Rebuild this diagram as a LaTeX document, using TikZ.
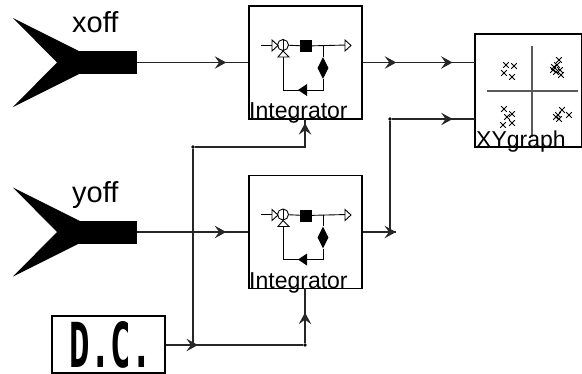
\documentclass[tikz,border=0pt]{standalone}
\usepackage{fontspec}
\setmainfont{Liberation Sans}
\newfontfamily\dcfont{DejaVu Sans Mono}[FontFace={bx}{n}{DejaVu Sans Mono Bold}]
\usetikzlibrary{arrows.meta,decorations.markings,positioning,shapes.geometric}
\tikzset{
  wire/.style={line width=1.1pt, black!85},
  wirehead/.tip={Stealth[length=11.5pt, width=12.5pt, inset=4.5pt]},
  flow/.style={postaction={decorate, decoration={markings, mark=at position #1 with {\arrow{wirehead}}}}},
  block/.style={draw, line width=1.1pt, fill=white, minimum width=113pt, minimum height=113pt, inner sep=0pt},
  dot/.style={circle, fill=black, inner sep=1.4pt},
  body/.style={fill=black, minimum width=59pt, minimum height=23pt, inner sep=0pt},
  title/.style={font=\fontsize{23}{26}\selectfont, inner sep=0pt, anchor=base west},
  blackbox/.style={fill=black, minimum size=12pt, inner sep=0pt},
  sumcircle/.style={circle, draw, line width=0.9pt, minimum size=11pt, inner sep=0pt},
  blackdiamond/.style={diamond, fill=black, aspect=0.5, minimum width=11pt, minimum height=22pt, inner sep=0pt},
  opentri/.style={draw, line width=0.9pt, fill=white},
  axisline/.style={line width=1.2pt, black!65},
  xmark/.pic={\draw[line width=0.8pt] (-2.8,-2.8) -- (2.8,2.8) (-2.8,2.8) -- (2.8,-2.8);},
}

\begin{document}
\begin{tikzpicture}[x=1pt, y=-1pt]
  \useasboundingbox (0,0) rectangle (582,373);

  % Sources
  \foreach \name/\ymid/\lbl in {xoff/62.5/xoff, yoff/232/yoff} {
    \fill (13,\ymid-44.5) -- (80,\ymid-11) -- (80,\ymid+11) -- (13,\ymid+44.5) -- (57,\ymid) -- cycle;
    \node[body] (\name) at (107.5,\ymid) {};
    \node[font=\fontsize{29}{32}\selectfont, inner sep=0pt, anchor=base west] (\name label) at (72,\ymid-30) {\lbl};
  }

  % Integrators
  \foreach \name/\ymid in {intx/62.5, inty/232} {
    \node[block] (\name) at (305.5,\ymid) {};
    \begin{scope}[shift={(0,\ymid-62.5)}]
      \coordinate (\name in) at (261,45);
      \node[sumcircle] (\name sum) at (283,45) {};
      \node[blackbox] (\name gain) at (306,46) {};
      \coordinate (\name out) at (347,45);
      \coordinate (\name tee) at (323,45);
      \node[blackdiamond] (\name lim) at (323,68) {};
      \coordinate (\name c1) at (323,90);
      \coordinate (\name c2) at (283,90);
      \coordinate (\name base) at (283,57);
      \draw[line width=0.9pt] (\name in) -- (\name sum);
      \draw[line width=0.9pt] (\name sum.north) -- (\name sum.south);
      \draw[line width=0.9pt] (\name sum) -- (\name gain) -- (\name out);
      \draw[line width=0.9pt] (\name tee) -- (\name lim) -- (\name c1) -- (\name c2) -- (\name base);
      \fill (298,90) -- (307,84) -- (307,96) -- cycle;
      \draw[opentri] (272,40) -- (278,45.5) -- (272,51) -- cycle;
      \draw[opentri] (283,51) -- (289,57) -- (278,57) -- cycle;
      \draw[opentri] (345,40) -- (351,45.5) -- (345,51) -- cycle;
    \end{scope}
    \node[title] (\name title) at (249,\ymid+56) {Integrator};
  }

  % XY graph
  \node[draw, line width=1.1pt, minimum width=107pt, minimum height=113pt, inner sep=0pt] (graph) at (528.5,90.5) {};
  \draw[axisline] (487,91) -- (578,91);
  \draw[axisline] (532,46) -- (532,137);
  \foreach \px/\py in {506/65, 514/66, 504/73, 512/77,
                       559/60, 557/65, 554/67, 560/70, 553/70, 561/75, 556/72,
                       504/109, 512/114, 507/117, 503/125, 512/123,
                       562/110, 569/115, 558/115, 556/117, 559/119} {
    \pic at (\px,\py) {xmark};
  }
  \node[title] (graph title) at (476,147) {XYgraph};

  % D.C. source
  \node[draw, line width=1.1pt, minimum width=113pt, minimum height=57pt, inner sep=0pt] (dc) at (108.5,344.5) {};
  \node[inner sep=0pt, xscale=0.55, font=\dcfont\bfseries\fontsize{62}{64}\selectfont] (dc text) at (111,345) {D.C.};

  % Wiring
  \node[dot] (top tee) at (193,147) {};
  \node[dot] (dc tee) at (305,345) {};
  \node[dot] (out tee) at (390,119) {};
  \coordinate (dc drop) at (193,345);
  \coordinate (x up) at (305,119);
  \coordinate (y up) at (305,288);
  \coordinate (graph low) at (475,119);
  \coordinate (graph high) at (475,62.5);
  \coordinate (out corner) at (390,232);
  \coordinate (out tip) at (396,232);

  \draw[wire, flow=0.8] (xoff.east) -- (intx.west);
  \draw[wire, flow=0.8] (yoff.east) -- (inty.west);
  \draw[wire, flow=0.3, flow=0.8] (intx.east) -- (graph high);
  \draw[wire, flow=1] (inty.east) -- (out tip);
  \draw[wire] (out corner) -- (out tee);
  \draw[wire, flow=0.73] (out tee) -- (graph low);
  \draw[wire] (top tee) -- (dc drop);
  \draw[wire, flow=0.236] (dc.east |- dc tee) -- (dc tee);
  \draw[wire, flow=0.55] (dc tee) -- (y up);
  \draw[wire, flow=0.97] (top tee) -- (top tee -| x up) -- (x up);
\end{tikzpicture}
\end{document}
